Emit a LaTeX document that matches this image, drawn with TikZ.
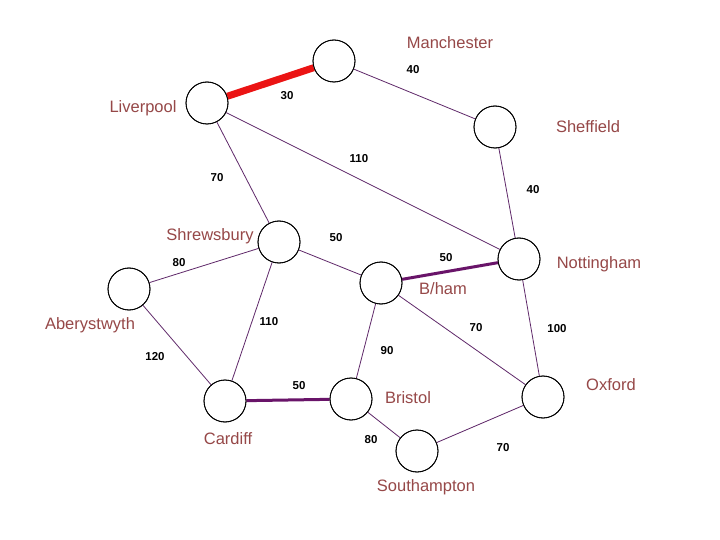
\documentclass[tikz,border=0pt]{standalone}
\usepackage{fontspec}
\setmainfont{Liberation Sans}
\definecolor{lbl}{RGB}{150,72,72}
\definecolor{edgec}{RGB}{95,40,105}
\definecolor{thickc}{RGB}{105,20,105}
\definecolor{redc}{RGB}{235,20,20}
\begin{document}
\begin{tikzpicture}[x=1pt,y=-1pt,
  town/.style={circle,draw=black,line width=0.8pt,fill=white,minimum size=42pt,inner sep=0pt},
  place/.style={text=lbl,font=\fontsize{16.5}{18}\selectfont,inner sep=0pt},
  weight/.style={text=black,font=\bfseries\fontsize{11.5}{13}\selectfont,inner sep=0pt},
  edge/.style={draw=edgec,line width=0.8pt},
  bold/.style={draw=thickc,line width=3pt},
  redge/.style={draw=redc,line width=7pt}]
\useasboundingbox[fill=white] (0,0) rectangle (720,540);
% towns
\node[town] (man) at (334,61) {};
\node[town] (liv) at (207,103) {};
\node[town] (she) at (495,127) {};
\node[town] (shr) at (279,242) {};
\node[town] (bham) at (381,283) {};
\node[town] (not) at (519,259) {};
\node[town] (abe) at (129,289) {};
\node[town] (car) at (225,401) {};
\node[town] (bri) at (351,399) {};
\node[town] (oxf) at (543,397) {};
\node[town] (sou) at (417,451) {};
% edges
\draw[redge] (liv) -- (man);
\draw[edge] (man) -- (she);
\draw[edge] (liv) -- (not);
\draw[edge] (liv) -- (shr);
\draw[edge] (she) -- (not);
\draw[edge] (shr) -- (bham);
\draw[edge] (shr) -- (abe);
\draw[edge] (shr) -- (car);
\draw[bold] (bham) -- (not);
\draw[edge] (bham) -- (bri);
\draw[edge] (bham) -- (oxf);
\draw[edge] (not) -- (oxf);
\draw[edge] (abe) -- (car);
\draw[bold] (car) -- (bri);
\draw[edge] (bri) -- (sou);
\draw[edge] (sou) -- (oxf);
% redraw circles on top
\foreach \n in {man,liv,she,shr,bham,not,abe,car,bri,oxf,sou}
  \draw[line width=0.8pt] (\n) circle (21pt);
% place labels
\node[place] (lman) at (450,43) {Manchester};
\node[place] (lliv) at (143,108) {Liverpool};
\node[place] (lshe) at (588,127) {Sheffield};
\node[place] (lshr) at (210,236) {Shrewsbury};
\node[place] (lnot) at (599,264) {Nottingham};
\node[place] (lbham) at (443,289) {B/ham};
\node[place] (labe) at (90,325) {Aberystwyth};
\node[place] (loxf) at (611,385) {Oxford};
\node[place] (lbri) at (408,398) {Bristol};
\node[place] (lcar) at (228,439) {Cardiff};
\node[place] (lsou) at (426,487) {Southampton};
% weights
\node[weight] (w1) at (413,70) {40};
\node[weight] (w2) at (287,96) {30};
\node[weight] (w3) at (359,159) {110};
\node[weight] (w4) at (217,178) {70};
\node[weight] (w5) at (533,190) {40};
\node[weight] (w6) at (336,238) {50};
\node[weight] (w7) at (446,258) {50};
\node[weight] (w8) at (179,263) {80};
\node[weight] (w9) at (269,322) {110};
\node[weight] (w10) at (476,328) {70};
\node[weight] (w11) at (557,329) {100};
\node[weight] (w12) at (387,351) {90};
\node[weight] (w13) at (155,357) {120};
\node[weight] (w14) at (299,386) {50};
\node[weight] (w15) at (371,440) {80};
\node[weight] (w16) at (503,448) {70};
\end{tikzpicture}
\end{document}
